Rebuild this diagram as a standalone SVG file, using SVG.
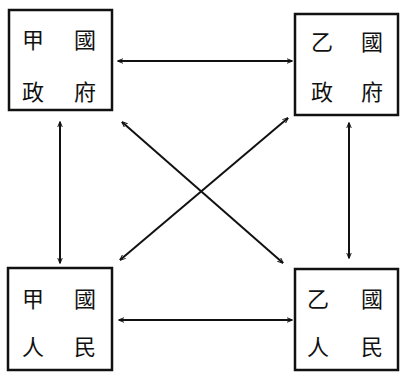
<svg xmlns="http://www.w3.org/2000/svg" width="400" height="374" viewBox="0 0 400 374">
<defs>
<style>
.box{fill:#fff;stroke:#111;stroke-width:2.5}
.t{font-family:"Noto Sans CJK TC","Noto Sans CJK SC",sans-serif;font-size:22px;fill:#111;text-anchor:middle;dominant-baseline:central}
.c{stroke:#111;stroke-width:2;fill:none;marker-start:url(#a);marker-end:url(#a)}
</style>
<marker id="a" viewBox="0 0 10 10" refX="9" refY="5" markerWidth="6" markerHeight="6" orient="auto-start-reverse" markerUnits="userSpaceOnUse">
<path d="M0,1 L10,5 L0,9" fill="none" stroke="#111" stroke-width="1.6"/>
</marker>
</defs>
<rect width="400" height="374" fill="#fff"/>
<g id="connectors">
<line class="c" x1="118" y1="61" x2="292" y2="61"/>
<line class="c" x1="119" y1="320" x2="292" y2="320"/>
<line class="c" x1="60" y1="122" x2="60" y2="263"/>
<line class="c" x1="349" y1="123" x2="349" y2="258"/>
<line class="c" x1="122" y1="122" x2="283" y2="263"/>
<line class="c" x1="288" y1="118" x2="120" y2="260"/>
</g>
<g id="jia-gov">
<rect class="box" x="9" y="10" width="103" height="100"/>
<text class="t" x="33" y="38">甲</text><text class="t" x="85" y="38">國</text>
<text class="t" x="33" y="90">政</text><text class="t" x="85" y="90">府</text>
</g>
<g id="yi-gov">
<rect class="box" x="295" y="14" width="103" height="101"/>
<text class="t" x="322" y="40">乙</text><text class="t" x="372" y="40">國</text>
<text class="t" x="322" y="90">政</text><text class="t" x="372" y="90">府</text>
</g>
<g id="jia-people">
<rect class="box" x="8" y="268" width="104" height="102"/>
<text class="t" x="33" y="297">甲</text><text class="t" x="85" y="297">國</text>
<text class="t" x="33" y="345">人</text><text class="t" x="85" y="345">民</text>
</g>
<g id="yi-people">
<rect class="box" x="295" y="269" width="103" height="101"/>
<text class="t" x="318" y="297">乙</text><text class="t" x="372" y="297">國</text>
<text class="t" x="318" y="345">人</text><text class="t" x="372" y="345">民</text>
</g>
</svg>
